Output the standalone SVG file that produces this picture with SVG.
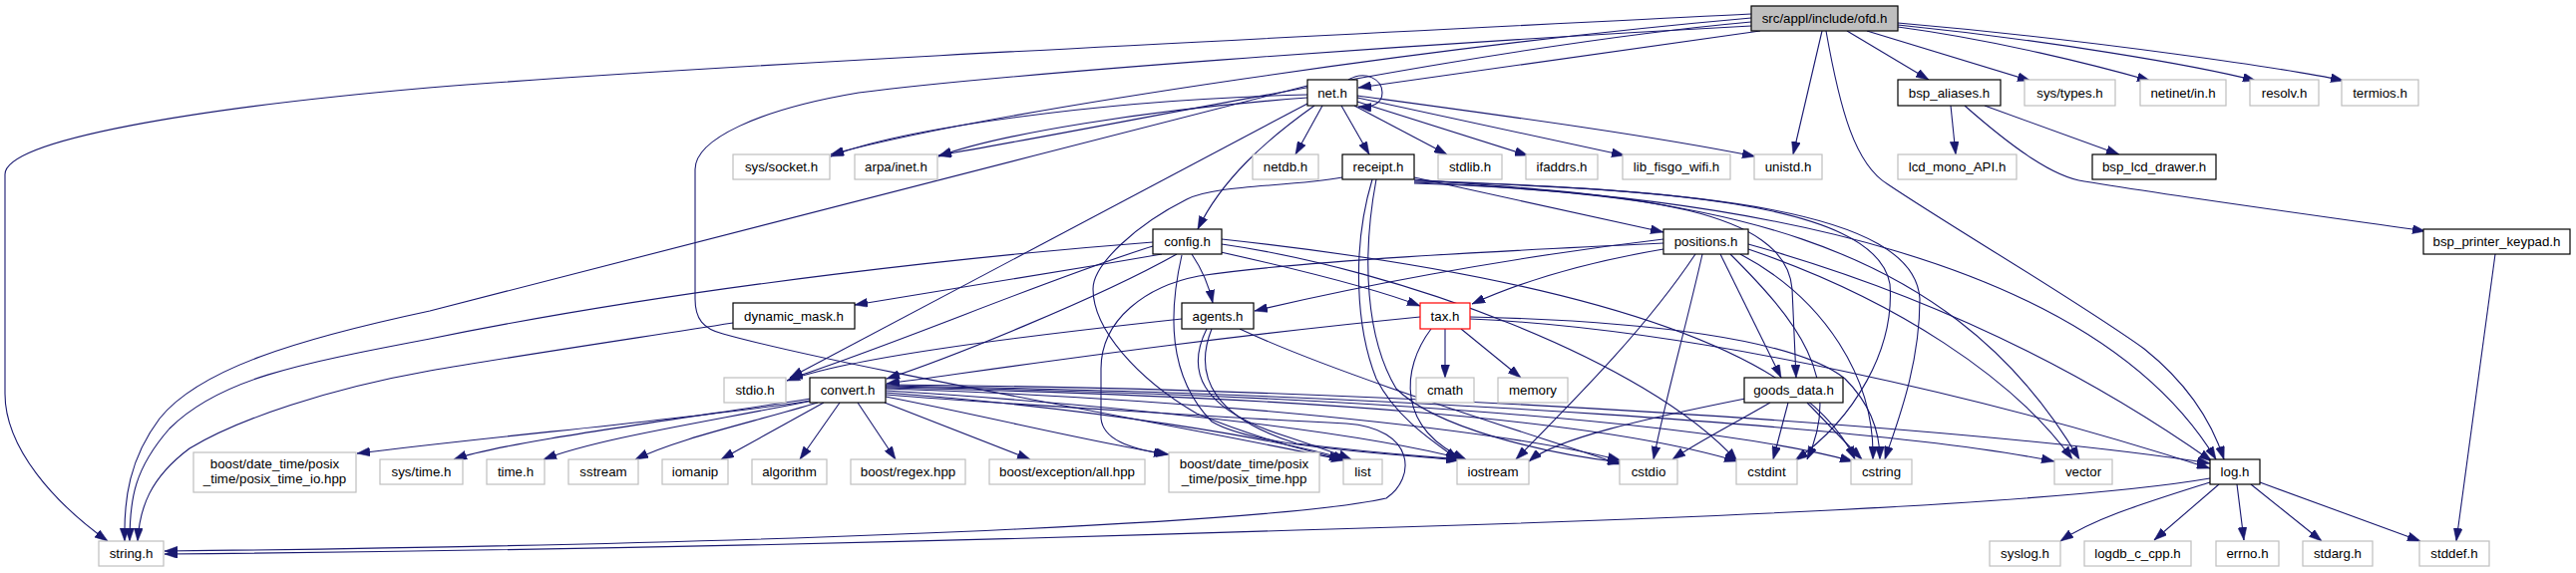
<svg xmlns="http://www.w3.org/2000/svg" width="2583" height="575" viewBox="0 0 2583 575">
<style>
.n rect{fill:#fff;stroke:#000;stroke-width:1.2}
.x rect{fill:#fff;stroke:#bfbfbf;stroke-width:1.2}
.r rect{fill:#bfbfbf;stroke:#000;stroke-width:1.2}
.t rect{fill:#fff;stroke:#ff0000;stroke-width:1.2}
text{font-family:"Liberation Sans",Arial,sans-serif;font-size:13.3px;fill:#000;text-anchor:middle}
#edges path{fill:none;stroke:#191970;stroke-width:1.1;marker-end:url(#a)}
</style>
<defs>
<marker id="a" viewBox="0 0 13 9" refX="13" refY="4.5" markerWidth="13" markerHeight="9" orient="auto" markerUnits="userSpaceOnUse"><path d="M0,0 L13,4.5 L0,9 z" fill="#191970" stroke="#191970" stroke-width="0.5"/></marker>
</defs>
<rect width="2583" height="575" fill="#fff"/>
<g id="edges">
<path d="M1756,14 C1300,37 700,66 430,88 C200,108 5,140 5,175 L5,395 C5,450 55,505 108,543"/>
<path d="M1765,31 C1600,55 1450,75 1362,88"/>
<path d="M1756,18 C1450,45 1000,110 833,155"/>
<path d="M1756,22 C1500,45 1150,120 941,156"/>
<path d="M1827,31 L1798,155"/>
<path d="M1852,31 L1934,80"/>
<path d="M1872,31 L2036,81"/>
<path d="M1903,27 C2000,40 2100,65 2156,81"/>
<path d="M1903,25 C2050,40 2200,65 2262,81"/>
<path d="M1903,23 C2100,40 2300,70 2350,81"/>
<path d="M1831,31 C1845,110 1860,165 1893,185 C1960,230 2080,300 2150,350 C2200,390 2220,430 2230,461"/>
<path d="M1756,26 C1400,45 1000,75 861,93 C760,110 697,140 697,170 L697,300 C697,320 705,330 725,335 C850,370 1200,430 1348,462"/>
<path d="M1352,80 C1370,70 1386,80 1386,93 C1386,104 1376,108 1362,107"/>
<path d="M1311,95 C1100,100 900,130 833,157"/>
<path d="M1311,98 C1150,110 1000,135 941,157"/>
<path d="M1326,106 L1299,155"/>
<path d="M1345,106 L1373,155"/>
<path d="M1358,106 L1451,155"/>
<path d="M1361,102 L1532,156"/>
<path d="M1361,98 L1629,156"/>
<path d="M1361,96 C1500,115 1650,135 1760,157"/>
<path d="M1318,106 C1270,140 1225,180 1201,230"/>
<path d="M1311,86 C1000,165 600,270 431,312 C300,340 200,370 160,420 C130,460 124,500 125,543"/>
<path d="M1311,104 L792,379"/>
<path d="M1418,178 L1668,233"/>
<path d="M1346,178 C1290,188 1220,185 1190,200 C1140,225 1096,265 1096,290 C1096,330 1140,380 1200,415 C1260,440 1310,452 1346,461"/>
<path d="M1376,180 C1355,250 1360,330 1380,380 C1400,420 1440,445 1462,461"/>
<path d="M1380,180 C1365,260 1370,340 1400,390 C1440,430 1550,455 1625,464"/>
<path d="M1418,180 C1600,195 1790,200 1797,290 L1801,379"/>
<path d="M1418,181 C1650,190 1880,200 1895,285 C1900,350 1860,420 1800,462"/>
<path d="M1418,182 C1700,190 1920,210 1925,300 C1925,370 1900,430 1890,461"/>
<path d="M1418,183 C1700,195 1950,230 2085,461"/>
<path d="M1418,184 C1750,195 2100,260 2222,461"/>
<path d="M1668,244 C1500,252 1300,262 1202,277 C1150,287 1104,320 1104,370 L1104,420 C1106,440 1130,450 1170,456"/>
<path d="M1668,240 C1500,260 1350,290 1258,312"/>
<path d="M1668,250 C1580,265 1520,285 1476,305"/>
<path d="M1725,255 L1786,379"/>
<path d="M1700,255 C1650,330 1580,400 1520,461"/>
<path d="M1707,255 C1690,330 1670,400 1658,461"/>
<path d="M1735,255 C1800,320 1850,380 1812,461"/>
<path d="M1745,255 C1830,300 1880,380 1878,461"/>
<path d="M1753,250 C1900,300 2020,380 2078,461"/>
<path d="M1753,245 C1950,300 2100,380 2218,463"/>
<path d="M1424,318 C1200,340 1000,370 889,385"/>
<path d="M1449,330 L1449,379"/>
<path d="M1465,330 L1525,379"/>
<path d="M1435,330 C1405,370 1400,430 1470,461"/>
<path d="M1474,318 C1650,322 1800,340 1850,380 C1880,410 1885,440 1885,461"/>
<path d="M1474,320 C1700,330 2000,400 2216,470"/>
<path d="M1185,320 C1000,340 850,360 789,382"/>
<path d="M1210,330 C1190,370 1200,410 1290,438 C1320,448 1340,455 1355,461"/>
<path d="M1215,330 C1195,380 1220,420 1300,445 C1380,455 1430,458 1465,461"/>
<path d="M1243,330 C1350,380 1550,440 1625,466"/>
<path d="M1156,243 C1000,255 700,285 431,340 C300,365 220,380 170,430 C135,470 130,500 130,543"/>
<path d="M1156,247 C1050,280 900,345 792,380"/>
<path d="M1165,255 C1050,275 920,295 857,306"/>
<path d="M1180,255 C1100,300 950,360 889,380"/>
<path d="M1195,255 C1205,270 1212,285 1216,304"/>
<path d="M1224,253 C1300,270 1380,290 1424,307"/>
<path d="M1185,256 C1172,313 1170,377 1215,423 C1260,450 1400,455 1463,462"/>
<path d="M1225,245 C1400,270 1650,360 1742,463"/>
<path d="M1225,240 C1500,270 1800,330 1860,461"/>
<path d="M735,324 C600,345 500,360 431,372 C330,390 240,420 190,450 C150,480 140,510 138,543"/>
<path d="M813,402 C700,420 500,437 358,455"/>
<path d="M813,400 C650,425 500,445 455,461"/>
<path d="M815,402 C700,425 600,440 545,461"/>
<path d="M820,404 C750,425 680,440 637,461"/>
<path d="M826,404 L723,461"/>
<path d="M842,404 L802,461"/>
<path d="M860,404 L898,461"/>
<path d="M887,404 L1033,461"/>
<path d="M888,398 C1000,420 1100,445 1172,456"/>
<path d="M888,394 C1100,410 1280,440 1350,461"/>
<path d="M888,392 C1100,405 1350,430 1468,461"/>
<path d="M888,390 C1200,400 1500,430 1625,462"/>
<path d="M888,389 C1300,398 1600,420 1742,463"/>
<path d="M888,388 C1300,395 1700,420 1858,463"/>
<path d="M888,387 C1400,395 1900,430 2060,463"/>
<path d="M888,386 C1400,390 2000,430 2216,465"/>
<path d="M888,396 C1000,405 1250,420 1350,425 C1420,430 1420,480 1390,500 C1300,520 900,545 165,553"/>
<path d="M1750,400 C1650,420 1560,440 1533,463"/>
<path d="M1775,404 C1730,430 1700,445 1677,461"/>
<path d="M1793,404 L1778,461"/>
<path d="M1812,404 L1867,461"/>
<path d="M1956,106 L1961,155"/>
<path d="M1990,106 L2125,155"/>
<path d="M1970,106 C2020,150 2060,178 2090,182 C2200,200 2350,220 2432,232"/>
<path d="M2502,255 L2463,543"/>
<path d="M2216,480 C2100,500 1800,518 1300,532 C900,545 500,553 165,556"/>
<path d="M2216,484 C2150,505 2100,520 2066,543"/>
<path d="M2225,486 L2160,542"/>
<path d="M2243,486 L2250,542"/>
<path d="M2257,486 L2328,543"/>
<path d="M2266,484 L2427,543"/>
</g>
<g id="ofd" class="r"><rect x="1756" y="6" width="147" height="25"/><text x="1829.5" y="23">src/appl/include/ofd.h</text></g>
<g id="net" class="n"><rect x="1311" y="80" width="50" height="26"/><text x="1336" y="97.5">net.h</text></g>
<g id="bsp_aliases" class="n"><rect x="1903" y="80" width="103" height="26"/><text x="1954.5" y="97.5">bsp_aliases.h</text></g>
<g id="sys_types" class="x"><rect x="2030" y="80" width="91" height="26"/><text x="2075.5" y="97.5">sys/types.h</text></g>
<g id="netinet_in" class="x"><rect x="2146" y="80" width="86" height="26"/><text x="2189" y="97.5">netinet/in.h</text></g>
<g id="resolv" class="x"><rect x="2256" y="80" width="69" height="26"/><text x="2290.5" y="97.5">resolv.h</text></g>
<g id="termios" class="x"><rect x="2348" y="80" width="77" height="26"/><text x="2386.5" y="97.5">termios.h</text></g>
<g id="sys_socket" class="x"><rect x="735" y="155" width="97" height="25"/><text x="783.5" y="172">sys/socket.h</text></g>
<g id="arpa_inet" class="x"><rect x="857" y="155" width="83" height="25"/><text x="898.5" y="172">arpa/inet.h</text></g>
<g id="netdb" class="x"><rect x="1256" y="155" width="66" height="25"/><text x="1289" y="172">netdb.h</text></g>
<g id="receipt" class="n"><rect x="1346" y="155" width="72" height="25"/><text x="1382" y="172">receipt.h</text></g>
<g id="stdlib" class="x"><rect x="1442" y="155" width="64" height="25"/><text x="1474" y="172">stdlib.h</text></g>
<g id="ifaddrs" class="x"><rect x="1530" y="155" width="72" height="25"/><text x="1566" y="172">ifaddrs.h</text></g>
<g id="lib_fisgo_wifi" class="x"><rect x="1627" y="155" width="108" height="25"/><text x="1681" y="172">lib_fisgo_wifi.h</text></g>
<g id="unistd" class="x"><rect x="1759" y="155" width="68" height="25"/><text x="1793" y="172">unistd.h</text></g>
<g id="lcd_mono_API" class="x"><rect x="1903" y="155" width="119" height="25"/><text x="1962.5" y="172">lcd_mono_API.h</text></g>
<g id="bsp_lcd_drawer" class="n"><rect x="2098" y="155" width="124" height="25"/><text x="2160" y="172">bsp_lcd_drawer.h</text></g>
<g id="config" class="n"><rect x="1156" y="230" width="69" height="25"/><text x="1190.5" y="247">config.h</text></g>
<g id="positions" class="n"><rect x="1668" y="230" width="85" height="25"/><text x="1710.5" y="247">positions.h</text></g>
<g id="bsp_printer_keypad" class="n"><rect x="2430" y="230" width="147" height="25"/><text x="2503.5" y="247">bsp_printer_keypad.h</text></g>
<g id="dynamic_mask" class="n"><rect x="735" y="304" width="122" height="26"/><text x="796" y="321.5">dynamic_mask.h</text></g>
<g id="agents" class="n"><rect x="1185" y="304" width="72" height="26"/><text x="1221" y="321.5">agents.h</text></g>
<g id="tax" class="t"><rect x="1424" y="304" width="50" height="26"/><text x="1449" y="321.5">tax.h</text></g>
<g id="stdio" class="x"><rect x="726" y="379" width="62" height="25"/><text x="757" y="396">stdio.h</text></g>
<g id="convert" class="n"><rect x="812" y="379" width="76" height="25"/><text x="850" y="396">convert.h</text></g>
<g id="cmath" class="x"><rect x="1420" y="379" width="58" height="25"/><text x="1449" y="396">cmath</text></g>
<g id="memory" class="x"><rect x="1502" y="379" width="70" height="25"/><text x="1537" y="396">memory</text></g>
<g id="goods_data" class="n"><rect x="1749" y="379" width="99" height="25"/><text x="1798.5" y="396">goods_data.h</text></g>
<g id="posix_time_io" class="x"><rect x="194" y="454" width="163" height="40"/><text x="275.5" y="470">boost/date_time/posix</text><text x="275.5" y="485">_time/posix_time_io.hpp</text></g>
<g id="sys_time" class="x"><rect x="381" y="461" width="83" height="25"/><text x="422.5" y="478">sys/time.h</text></g>
<g id="time" class="x"><rect x="488" y="461" width="58" height="25"/><text x="517" y="478">time.h</text></g>
<g id="sstream" class="x"><rect x="570" y="461" width="70" height="25"/><text x="605" y="478">sstream</text></g>
<g id="iomanip" class="x"><rect x="664" y="461" width="66" height="25"/><text x="697" y="478">iomanip</text></g>
<g id="algorithm" class="x"><rect x="754" y="461" width="75" height="25"/><text x="791.5" y="478">algorithm</text></g>
<g id="boost_regex" class="x"><rect x="853" y="461" width="115" height="25"/><text x="910.5" y="478">boost/regex.hpp</text></g>
<g id="boost_exception" class="x"><rect x="992" y="461" width="156" height="25"/><text x="1070" y="478">boost/exception/all.hpp</text></g>
<g id="posix_time" class="x"><rect x="1172" y="454" width="151" height="40"/><text x="1247.5" y="470">boost/date_time/posix</text><text x="1247.5" y="485">_time/posix_time.hpp</text></g>
<g id="list" class="x"><rect x="1347" y="461" width="39" height="25"/><text x="1366.5" y="478">list</text></g>
<g id="iostream" class="x"><rect x="1461" y="461" width="72" height="25"/><text x="1497" y="478">iostream</text></g>
<g id="cstdio" class="x"><rect x="1624" y="461" width="58" height="25"/><text x="1653" y="478">cstdio</text></g>
<g id="cstdint" class="x"><rect x="1741" y="461" width="61" height="25"/><text x="1771.5" y="478">cstdint</text></g>
<g id="cstring" class="x"><rect x="1856" y="461" width="61" height="25"/><text x="1886.5" y="478">cstring</text></g>
<g id="vector" class="x"><rect x="2060" y="461" width="58" height="25"/><text x="2089" y="478">vector</text></g>
<g id="log" class="n"><rect x="2216" y="461" width="50" height="25"/><text x="2241" y="478">log.h</text></g>
<g id="string" class="x"><rect x="99" y="543" width="65" height="25"/><text x="131.5" y="560">string.h</text></g>
<g id="syslog" class="x"><rect x="1995" y="543" width="71" height="25"/><text x="2030.5" y="560">syslog.h</text></g>
<g id="logdb" class="x"><rect x="2090" y="543" width="107" height="25"/><text x="2143.5" y="560">logdb_c_cpp.h</text></g>
<g id="errno" class="x"><rect x="2222" y="543" width="63" height="25"/><text x="2253.5" y="560">errno.h</text></g>
<g id="stdarg" class="x"><rect x="2309" y="543" width="70" height="25"/><text x="2344" y="560">stdarg.h</text></g>
<g id="stddef" class="x"><rect x="2426" y="543" width="70" height="25"/><text x="2461" y="560">stddef.h</text></g>
</svg>
